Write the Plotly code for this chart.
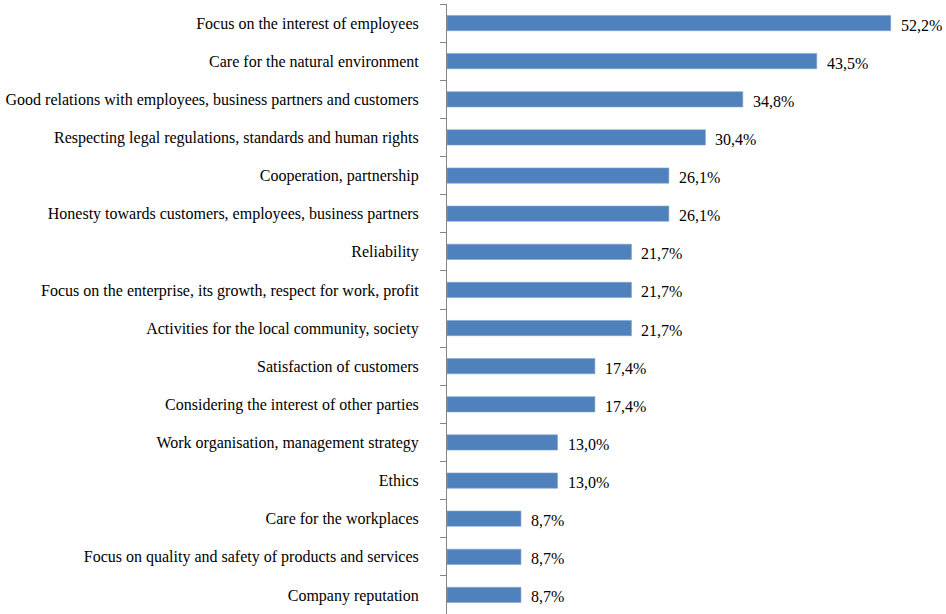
import plotly.graph_objects as go

categories = [
    "Focus on the interest of employees",
    "Care for the natural environment",
    "Good relations with employees, business partners and customers",
    "Respecting legal regulations, standards and human rights",
    "Cooperation, partnership",
    "Honesty towards customers, employees, business partners",
    "Reliability",
    "Focus on the enterprise, its growth, respect for work, profit",
    "Activities for the local community, society",
    "Satisfaction of customers",
    "Considering the interest of other parties",
    "Work organisation, management strategy",
    "Ethics",
    "Care for the workplaces",
    "Focus on quality and safety of products and services",
    "Company reputation",
]
values = [52.2, 43.5, 34.8, 30.4, 26.1, 26.1, 21.7, 21.7, 21.7,
          17.4, 17.4, 13.0, 13.0, 8.7, 8.7, 8.7]
labels = [f"{v:.1f}%".replace(".", ",") for v in values]

FONT = "Liberation Serif, Times New Roman, serif"

fig = go.Figure(
    go.Bar(
        x=values,
        y=categories,
        orientation="h",
        marker=dict(color="#4F81BD", line=dict(color="#7FA3D0", width=0.6)),
        width=0.4,
        cliponaxis=False,
    )
)

# value labels placed just past the end of each bar
for cat, v, lab in zip(categories, values, labels):
    fig.add_annotation(
        x=v, y=cat, text=lab, xref="x", yref="y",
        xanchor="left", yanchor="middle", xshift=8, yshift=-2,
        showarrow=False,
        font=dict(family=FONT, size=16, color="#000000"),
    )

fig.update_layout(
    width=946,
    height=614,
    margin=dict(l=447, r=6, t=4, b=0),
    paper_bgcolor="white",
    plot_bgcolor="white",
    showlegend=False,
    font=dict(family=FONT, size=16, color="#000000"),
)
fig.update_xaxes(range=[0, 58], visible=False)
fig.update_yaxes(
    categoryorder="array",
    categoryarray=categories[::-1],
    showline=True,
    linecolor="#868686",
    linewidth=1,
    ticks="outside",
    tickson="boundaries",
    ticklen=6,
    tickcolor="#868686",
    ticklabelstandoff=24,
    showgrid=False,
    zeroline=False,
    tickfont=dict(family=FONT, size=16, color="#000000"),
)

fig.write_html("out.html")
